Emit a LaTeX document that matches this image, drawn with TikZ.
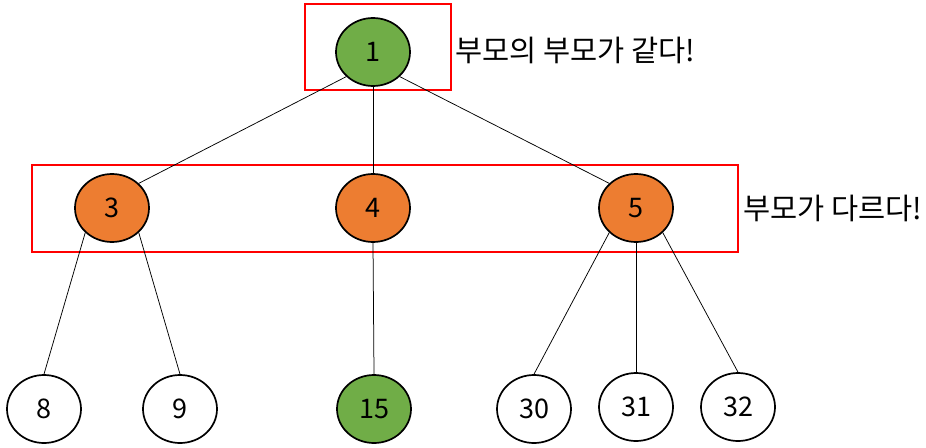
\documentclass[tikz,border=0pt]{standalone}
\usepackage{fontspec}
\setmainfont{Noto Sans CJK KR}
\usetikzlibrary{shapes.geometric}
\definecolor{ngreen}{HTML}{70AD47}
\definecolor{norange}{HTML}{ED7D31}
\tikzset{
  tnode/.style={ellipse, draw=black, line width=1.7pt, minimum width=74pt, minimum height=68pt, inner sep=0pt, font=\fontsize{27}{32}\selectfont},
  gnode/.style={tnode, fill=ngreen},
  onode/.style={tnode, fill=norange},
  wnode/.style={tnode, fill=white},
  edge/.style={draw=black, line width=0.75pt},
  redbox/.style={draw=red, line width=2pt},
  note/.style={anchor=west, inner sep=0pt, font=\fontsize{29.5}{34}\selectfont}
}
\begin{document}
\begin{tikzpicture}[x=1pt,y=-1pt]
\useasboundingbox (0,0) rectangle (926,447);
\draw[redbox] (304.5,3.5) rectangle (451,90);
\draw[redbox] (32,164.5) rectangle (738,251.5);
\node[gnode] (n1) at (373,52) {1};
\node[onode] (n3) at (112,208) {3};
\node[onode] (n4) at (373,208) {4};
\node[onode] (n5) at (636,208) {5};
\node[wnode] (n8) at (44,409) {8};
\node[wnode] (n9) at (180,409) {9};
\node[gnode] (n15) at (374,409) {15};
\node[wnode] (n30) at (534,409) {30};
\node[wnode] (n31) at (636,407) {31};
\node[wnode] (n32) at (738,407) {32};
\draw[edge] (n1.south west) -- (n3.north east);
\draw[edge] (n1.south) -- (n4.north);
\draw[edge] (n1.south east) -- (n5.north west);
\draw[edge] (n3.south west) -- (n8.north);
\draw[edge] (n3.south east) -- (n9.north);
\draw[edge] (n4.south) -- (n15.north);
\draw[edge] (n5.south west) -- (n30.north);
\draw[edge] (n5.south) -- (n31.north);
\draw[edge] (n5.south east) -- (n32.north);
\node[note] (t1) at (455,50) {부모의 부모가 같다!};
\node[note] (t2) at (743,208) {부모가 다르다!};
\end{tikzpicture}
\end{document}
